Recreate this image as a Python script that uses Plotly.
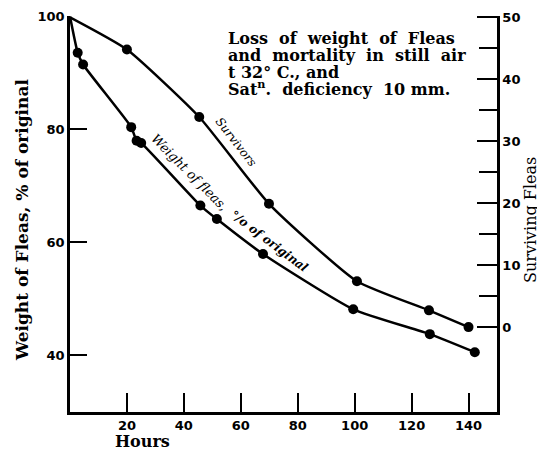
import plotly.graph_objects as go

# ---- data ----
weight_hours = [0, 2.7, 4.6, 21.5, 23.4, 25.0, 45.8, 51.6, 67.8, 99.5, 126.4, 142.2]
weight_pct = [100, 93.6, 91.5, 80.4, 78.0, 77.6, 66.5, 64.1, 57.9, 48.1, 43.7, 40.5]

surv_hours = [0, 20, 45.4, 69.9, 100.8, 126.1, 140]
surv_count = [50, 44.8, 33.9, 19.9, 7.4, 2.7, 0]

x_ticks = [20, 40, 60, 80, 100, 120, 140]
left_ticks = [40, 60, 80, 100]
left_tick_marks = [40, 60, 80]
right_ticks = [0, 10, 20, 30, 40, 50]
right_minor = [5, 15, 25, 35, 45]

title_lines = [
    "Loss  of  weight  of  Fleas",
    "and  mortality  in  still  air",
    "t 32° C., and",
    "Sat<sup>n</sup>.  deficiency  <b>10</b> mm.",
]

SERIF = "DejaVu Serif"
SANS = "DejaVu Sans"

# The page body adds an 8px margin, so the figure is sized to fit the
# 545x450 window exactly and all positions below are in window pixels.
OFF = 8
W, H = 545 - OFF, 450 - OFF
PL, PR, PT, PB = 70, 497, 16, 412  # plot area in window pixels

fig = go.Figure()

fig.add_trace(go.Scatter(
    x=weight_hours, y=weight_pct, mode="lines+markers",
    line=dict(color="black", width=2.5, shape="spline", smoothing=0.5),
    marker=dict(color="black", opacity=1, line=dict(width=0),
                size=[0] + [10] * (len(weight_hours) - 1)),
    yaxis="y", showlegend=False, hoverinfo="skip"))

fig.add_trace(go.Scatter(
    x=surv_hours, y=surv_count, mode="lines+markers",
    line=dict(color="black", width=2.5, shape="spline", smoothing=0.5),
    marker=dict(color="black", opacity=1, line=dict(width=0),
                size=[0] + [10] * (len(surv_hours) - 1)),
    yaxis="y2", showlegend=False, hoverinfo="skip"))

# invisible trace to activate tick-mark axis
fig.add_trace(go.Scatter(x=[0], y=[50], yaxis="y3", mode="markers",
                         marker=dict(size=0, opacity=0), showlegend=False,
                         hoverinfo="skip"))

tickfont = dict(family=SANS, size=13, color="black", weight="bold")

fig.update_layout(
    template="none",
    width=W, height=H,
    margin=dict(l=PL - OFF, r=545 - PR, t=PT - OFF, b=450 - PB, autoexpand=False),
    paper_bgcolor="white", plot_bgcolor="white",
    xaxis=dict(range=[0, 150], tickvals=x_ticks, ticks="inside", ticklen=19,
               tickwidth=1.5, tickcolor="black", showline=True, linewidth=2.5,
               linecolor="black", showgrid=False, zeroline=False,
               tickfont=tickfont, automargin=False),
    yaxis=dict(range=[29.9, 100.1], tickvals=left_ticks, ticks="",
               showline=True, linewidth=2.5, linecolor="black",
               showgrid=False, zeroline=False, tickfont=tickfont,
               automargin=False),
    yaxis3=dict(range=[29.9, 100.1], overlaying="y", side="left",
                tickvals=left_tick_marks, ticks="inside", ticklen=17,
                tickwidth=1.5, tickcolor="black", showticklabels=False,
                showline=False, showgrid=False, zeroline=False,
                automargin=False),
    yaxis2=dict(range=[-13.7, 50.2], overlaying="y", side="right",
                tickvals=right_ticks, ticks="inside", ticklen=20,
                tickwidth=1.5, tickcolor="black",
                minor=dict(tickvals=right_minor, ticks="inside", ticklen=18,
                           tickwidth=1.5, tickcolor="black", showgrid=False),
                showline=True, linewidth=2.5, linecolor="black",
                showgrid=False, zeroline=False, tickfont=tickfont,
                automargin=False),
)

def py_(py):
    return (PB - py) / float(PB - PT)

def px_(px):
    return (px - PL) / float(PR - PL)

# title block
for txt, cy in zip(title_lines, [39, 55.5, 72, 88]):
    fig.add_annotation(text=txt, xref="paper", yref="paper",
                       x=px_(226), y=py_(cy),
                       xanchor="left", yanchor="middle", showarrow=False,
                       font=dict(family=SERIF, size=16, color="black", weight="bold"))

# axis titles
fig.add_annotation(text="Weight of Fleas, % of original", xref="paper", yref="paper",
                   x=px_(22), y=py_(220), textangle=-90,
                   xanchor="center", yanchor="middle", showarrow=False,
                   font=dict(family=SERIF, size=17, color="black", weight="bold"))
fig.add_annotation(text="Surviving Fleas", xref="paper", yref="paper",
                   x=px_(530), y=py_(220), textangle=-90,
                   xanchor="center", yanchor="middle", showarrow=False,
                   font=dict(family=SERIF, size=16, color="black"))
fig.add_annotation(text="Hours", xref="paper", yref="paper",
                   x=px_(142), y=py_(441),
                   xanchor="center", yanchor="middle", showarrow=False,
                   font=dict(family=SERIF, size=16, color="black", weight="bold"))

# curve labels
fig.add_annotation(text="Survivors", xref="paper", yref="paper",
                   x=px_(236), y=py_(142), textangle=52,
                   xanchor="center", yanchor="middle", showarrow=False,
                   font=dict(family=SERIF, size=12, color="black", style="italic"))
fig.add_annotation(text="Weight of fleas,", xref="paper", yref="paper",
                   x=px_(190), y=py_(172), textangle=45,
                   xanchor="center", yanchor="middle", showarrow=False,
                   font=dict(family=SERIF, size=13, color="black", style="italic"))
fig.add_annotation(text="°/o of original", xref="paper", yref="paper",
                   x=px_(269), y=py_(241), textangle=37,
                   xanchor="center", yanchor="middle", showarrow=False,
                   font=dict(family=SERIF, size=12, color="black", style="italic", weight="bold"))

fig.write_html("out.html")
